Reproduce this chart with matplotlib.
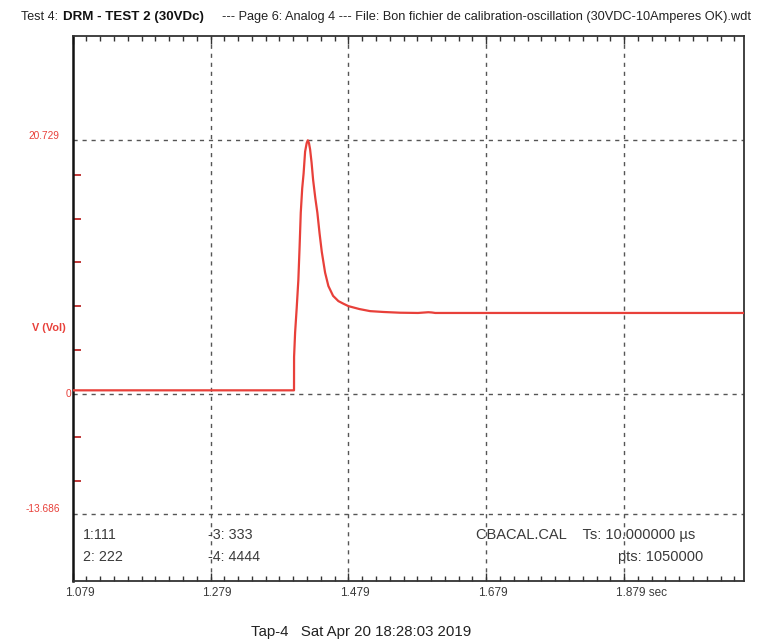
import numpy as np
import matplotlib
matplotlib.use('Agg')
import matplotlib.pyplot as plt
from matplotlib.transforms import ScaledTranslation

plt.rcParams['font.family'] = ['Liberation Sans', 'DejaVu Sans']

# ---- data ----
time_s = [1.079, 1.4001, 1.4002, 1.4017, 1.4040, 1.4064, 1.4082, 1.4099, 1.4120,
          1.4140, 1.4162, 1.4185, 1.4201, 1.4218, 1.4234, 1.4256, 1.4278, 1.4310,
          1.4340, 1.4372, 1.4404, 1.4452, 1.4500, 1.4568, 1.4645, 1.4720, 1.4790,
          1.4950, 1.5105, 1.5300, 1.5540, 1.5800, 1.5950, 1.6000, 1.6050, 1.6300, 2.053]
volts = [0.27, 0.27, 3.0, 5.0, 7.0, 9.3, 12.0, 14.8, 16.8,
         18.0, 19.8, 20.5, 20.729, 20.5, 20.0, 18.9, 17.5, 16.0,
         14.8, 13.1, 11.6, 9.9, 8.8, 8.0, 7.57, 7.35, 7.16,
         6.92, 6.75, 6.68, 6.62, 6.60, 6.66, 6.64, 6.60, 6.60, 6.60]

x_ticks = [1.079, 1.279, 1.479, 1.679, 1.879]
x_tick_labels = ['1.079', '1.279', '1.479', '1.679', '1.879 sec']
y_marks = [20.729, 0.0, -13.686]
y_mark_labels = ['20.729', '0', '-13.686']
y_minor = [17.9, 14.32, 10.74, 7.16, 3.58, -4.98, -9.97]

W, H = 780, 641
fig = plt.figure(figsize=(W / 100, H / 100), dpi=100)
ax = fig.add_axes([72.7 / W, 1 - 581 / H, (744 - 72.7) / W, (581 - 36) / H])

k = 0.7187
def fwd(y):
    y = np.asarray(y, float)
    return np.where(y < 0, y * k, y)
def inv(y):
    y = np.asarray(y, float)
    return np.where(y < 0, y / k, y)
ax.set_yscale('function', functions=(fwd, inv))
ax.set_xlim(1.079, 2.053)
ax.set_ylim(-21.33, 29.26)

red = '#e8403a'
grid_c = '#555555'
txt_c = '#3a3a3a'

# grid
for xv in x_ticks[1:]:
    ax.axvline(xv, color=grid_c, lw=1.0, ls=(0, (3, 3.5)), zorder=1)
for yv in y_marks:
    ax.axhline(yv, color=grid_c, lw=1.0, ls=(0, (3, 3.5)), zorder=1)

ax.plot(time_s, volts, color=red, lw=1.6, zorder=3)

# spines
for s in ['top', 'right', 'bottom']:
    ax.spines[s].set_color('#333333')
    ax.spines[s].set_linewidth(1.3)
ax.spines['left'].set_color('#111111')
ax.spines['left'].set_linewidth(1.8)

# x ticks
ax.set_xticks(x_ticks)
ax.set_xticklabels(x_tick_labels)
ax.set_xticks(np.arange(1.079, 2.053, 0.02), minor=True)
ax.tick_params(axis='x', which='major', direction='in', length=6, width=1.0,
               color='#333333', top=True, bottom=True, labelsize=8.5,
               labelcolor=txt_c, pad=4)
ax.tick_params(axis='x', which='minor', direction='in', length=3.5, width=1.0,
               color='#333333', top=True, bottom=True)
for lab in ax.get_xticklabels():
    lab.set_horizontalalignment('left')
    lab.set_transform(lab.get_transform() + ScaledTranslation(-8 / 100, 0, fig.dpi_scale_trans))

# y ticks
ax.set_yticks([])
ax.set_yticks(y_minor, minor=True)
ax.tick_params(axis='y', which='minor', direction='in', length=6, width=1.4,
               color='#c03838', left=True, right=False, labelleft=False)

# y labels
offs = {'20.729': (-13, 4), '0': (-1, 0), '-13.686': (-13, 5)}
for yv, lab in zip(y_marks, y_mark_labels):
    dx, dy = offs[lab]
    ax.annotate(lab, xy=(0, yv), xycoords=('axes fraction', 'data'),
                xytext=(dx, dy), textcoords='offset pixels',
                ha='right', va='center', fontsize=7.3, color=red)

def ftext(px, py, s, **kw):
    fig.text(px / W, 1 - py / H, s, **kw)

ftext(32, 328, 'V (Vol)', fontsize=7.8, color=red, fontweight='bold', va='center', ha='left')

# title
ftext(21, 17, 'Test 4:', fontsize=9, color='#222222', va='center', ha='left')
ftext(63, 17, 'DRM - TEST 2 (30VDc)', fontsize=9.6, color='#111111', fontweight='bold',
      va='center', ha='left')
ftext(222, 17, '--- Page 6: Analog 4 --- File: Bon fichier de calibration-oscillation '
      '(30VDC-10Amperes OK).wdt', fontsize=9.2, color='#222222', va='center', ha='left')

# info texts
ftext(83, 535, '1:111', fontsize=10.3, color=txt_c, va='center', ha='left')
ftext(83, 557, '2: 222', fontsize=10.3, color=txt_c, va='center', ha='left')
ftext(208, 535, '-3: 333', fontsize=10.3, color=txt_c, va='center', ha='left')
ftext(208, 557, '-4: 4444', fontsize=10.3, color=txt_c, va='center', ha='left')
ftext(476, 535, 'CBACAL.CAL    Ts: 10.000000 \u00b5s', fontsize=10.5, color=txt_c,
      va='center', ha='left')
ftext(703, 557, 'pts: 1050000', fontsize=10.5, color=txt_c, va='center', ha='right')

# footer
ftext(361, 632, 'Tap-4   Sat Apr 20 18:28:03 2019', fontsize=10.8, color='#222222',
      va='center', ha='center')

fig.savefig('out.png', dpi=100)
